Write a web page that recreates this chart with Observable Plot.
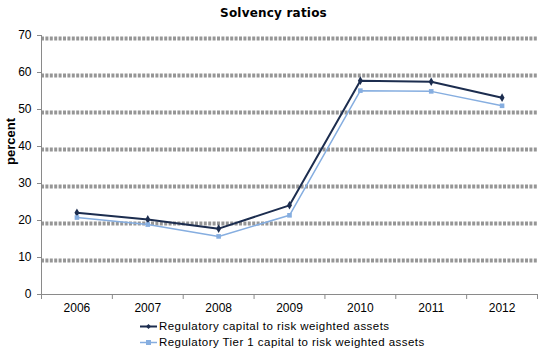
<!DOCTYPE html>
<html>
<head>
<meta charset="utf-8">
<script src="https://cdn.jsdelivr.net/npm/d3@7"></script>
<script src="https://cdn.jsdelivr.net/npm/@observablehq/plot@0.6"></script>
<style>
  html, body { margin: 0; padding: 0; background: #fff; }
  #wrap { position: relative; width: 547px; height: 357px; overflow: hidden; font-family: "Liberation Sans", Arial, sans-serif; }
  #title { position: absolute; left: 0; width: 547px; top: 6px; text-align: center; font: bold 12px "DejaVu Sans", sans-serif; letter-spacing: 0.2px; }
  #legend { position: absolute; left: 140px; top: 318px; font-size: 11.5px; letter-spacing: 0.45px; color: #000; }
  .row { height: 16px; display: flex; align-items: center; white-space: nowrap; }
  .row svg { margin-right: 2px; }
  #chart { position: absolute; left: 0; top: 0; }
</style>
</head>
<body>
<div id="wrap">
  <div id="chart"></div>
  <div id="title">Solvency ratios</div>
  <div id="legend"></div>
</div>
<script>
const years = [2006, 2007, 2008, 2009, 2010, 2011, 2012];
const regCapital = [22.1, 20.3, 17.8, 24.1, 57.8, 57.5, 53.2];
const tier1Capital = [20.8, 18.9, 15.7, 21.4, 55.1, 54.9, 51.0];
const seriesNames = ["Regulatory capital to risk weighted assets", "Regulatory Tier 1 capital to risk weighted assets"];
const seriesColors = ["#1c2d4f", "#86aee0"];
const yTicks = [0, 10, 20, 30, 40, 50, 60, 70];

const data = [];
years.forEach((y, i) => {
  data.push({year: y, value: regCapital[i], series: seriesNames[0]});
  data.push({year: y, value: tier1Capital[i], series: seriesNames[1]});
});
const boundaries = d3.range(years[0] - 0.5, years[years.length - 1] + 1, 1);

const chart = Plot.plot({
  width: 547,
  height: 357,
  marginTop: 35,
  marginBottom: 63,
  marginLeft: 41,
  marginRight: 10,
  style: {fontFamily: "'Liberation Sans', Arial, sans-serif", fontSize: "12px", color: "#000", background: "transparent"},
  x: {domain: [years[0] - 0.5, years[years.length - 1] + 0.5], axis: null},
  y: {domain: [0, 70], axis: null},
  marks: [
    Plot.ruleY(yTicks.filter(d => d > 0), {x1: years[0] - 0.5, x2: years[years.length - 1] + 0.5, stroke: "#969696", strokeWidth: 4, strokeDasharray: "3,1.4", dy: 3}),
    Plot.ruleX([years[0] - 0.5], {stroke: "#8a8a8a", strokeWidth: 1}),
    Plot.ruleY([0], {stroke: "#8a8a8a", strokeWidth: 1}),
    Plot.axisY({ticks: yTicks, tickSize: 4, tickPadding: 6, tickFormat: d => d, stroke: "#8a8a8a", label: null, fontSize: 12, style: {letterSpacing: "0.6px"}}),
    Plot.axisX({ticks: boundaries, tickSize: 5, tickFormat: () => "", stroke: "#8a8a8a", label: null}),
    Plot.axisX({ticks: years, tickSize: 0, tickPadding: 9, tickFormat: d => String(d), label: null, fontSize: 12, style: {letterSpacing: "0.5px"}}),
    Plot.text(["percent"], {frameAnchor: "left", dx: -31, rotate: -90, fontWeight: "bold", fontSize: 13, text: d => d, fill: "#000"}),
    Plot.line(data, {x: "year", y: "value", z: "series", stroke: "series", strokeWidth: d => d.series === seriesNames[0] ? 2 : 1.5}),
    Plot.dot(data, {x: "year", y: "value", fill: "series", symbol: d => d.series === seriesNames[0] ? "diamond" : "square", r: 2.6})
  ],
  color: {domain: seriesNames, range: seriesColors},
  symbol: {domain: ["diamond", "square"], range: ["diamond", "square"]}
});
document.getElementById("chart").appendChild(chart);

const legend = document.getElementById("legend");
seriesNames.forEach((name, i) => {
  const row = document.createElement("div");
  row.className = "row";
  const sym = i === 0
    ? `<path d="M8.5,2 L11,4.5 L8.5,7 L6,4.5Z" fill="${seriesColors[i]}"/>`
    : `<rect x="6" y="2" width="5" height="5" fill="${seriesColors[i]}"/>`;
  row.innerHTML = `<svg width="17" height="9"><line x1="0" x2="17" y1="4.5" y2="4.5" stroke="${seriesColors[i]}" stroke-width="${i === 0 ? 2 : 1.5}"/>${sym}</svg><span>${name}</span>`;
  legend.appendChild(row);
});
</script>
</body>
</html>
